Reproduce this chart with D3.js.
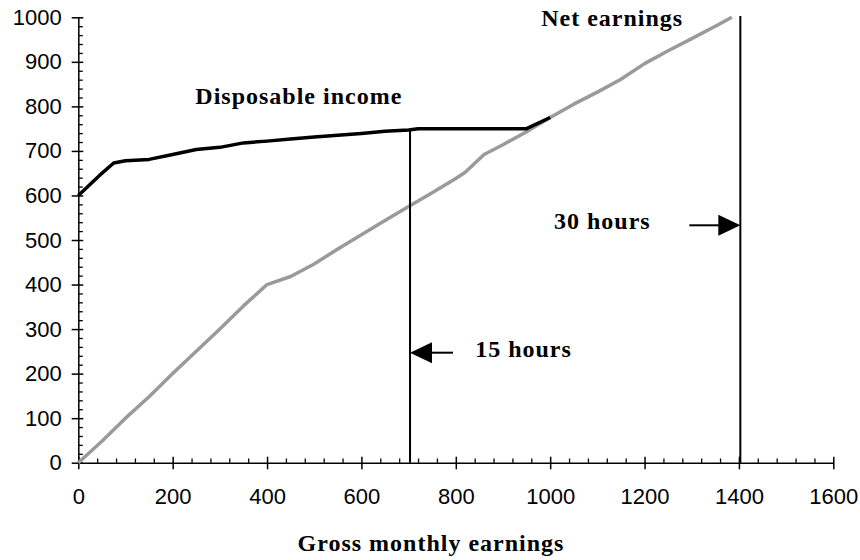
<!DOCTYPE html>
<html>
<head>
<meta charset="utf-8">
<script src="https://cdn.jsdelivr.net/npm/d3@7/dist/d3.min.js"></script>
<style>
  html, body { margin: 0; padding: 0; background: #fff; }
  svg { display: block; }
  .ann { font-family: "Liberation Serif", "Times New Roman", serif; font-weight: bold; font-size: 24px; letter-spacing: 1px; fill: #000; }
  .tick text { font-family: "Liberation Sans", Arial, sans-serif; font-size: 22px; fill: #000; }
</style>
</head>
<body>
<svg id="chart" width="860" height="560"></svg>
<script>
// ---- data ----
const netX = [0, 50, 100, 150, 200, 250, 300, 350, 400, 450, 500, 550, 600, 650, 700, 750, 800, 820, 860, 900, 950, 1000, 1050, 1100, 1150, 1200, 1250, 1300, 1350, 1385];
const netY = [0, 48, 100, 148, 200, 250, 300, 352, 400, 418, 446, 480, 512, 544, 575, 606, 638, 652, 692, 714, 743, 775, 805, 832, 861, 896, 925, 952, 980, 1000];

const dispX = [0, 45, 75, 100, 150, 200, 250, 300, 350, 400, 450, 500, 550, 600, 650, 700, 720, 860, 950, 1000];
const dispY = [600, 645, 673, 678, 681, 692, 703, 708, 718, 722, 727, 731, 735, 739, 744, 747, 750, 750, 750, 775];

const xTicks = [0, 200, 400, 600, 800, 1000, 1200, 1400, 1600];
const yTicks = [0, 100, 200, 300, 400, 500, 600, 700, 800, 900, 1000];

// hour markers: x position, top of line, arrow level, label anchor
const hourLabels = ["15 hours", "30 hours"];
const hourX = [703, 1403];
const hourTop = [748, 1003];
const hourArrowY = [247, 533];
const hourArrowDir = ["left", "right"];
const hourTextX = [841, 1008];
const hourTextY = [238, 524];

const seriesLabels = ["Disposable income", "Net earnings"];
const seriesLabelX = [248, 981];
const seriesLabelY = [805, 980];

const xTitle = "Gross monthly earnings";

// ---- chart ----
const svg = d3.select("#chart");
const x = d3.scaleLinear().domain([0, 1600]).range([78.3, 833.3]);
const y = d3.scaleLinear().domain([0, 1000]).range([462.7, 17.3]);

// minor ticks
const xMinor = d3.range(0, 1601, 40).filter(v => v % 200 !== 0);
const yMinor = d3.range(0, 1001, 20).filter(v => v % 100 !== 0);

const gxMinor = svg.append("g").attr("transform", `translate(0,${y(0)})`)
  .call(d3.axisBottom(x).tickValues(xMinor).tickSize(-4.2).tickFormat(""));
gxMinor.select(".domain").remove();
gxMinor.selectAll("line").attr("stroke", "#000").attr("stroke-width", 1.3);

const gyMinor = svg.append("g").attr("transform", `translate(${x(0)},0)`)
  .call(d3.axisLeft(y).tickValues(yMinor).tickSize(-4.5).tickFormat(""));
gyMinor.select(".domain").remove();
gyMinor.selectAll("line").attr("stroke", "#000").attr("stroke-width", 1.3);

// major axes
const gx = svg.append("g").attr("transform", `translate(0,${y(0)})`)
  .call(d3.axisBottom(x).tickValues(xTicks).tickSize(6.6).tickSizeOuter(0).tickPadding(18.7).tickFormat(d3.format("d")));
gx.select(".domain").attr("stroke", "#000").attr("stroke-width", 1.5);
gx.selectAll(".tick line").attr("y1", -6).attr("stroke", "#000").attr("stroke-width", 1.5);

const gy = svg.append("g").attr("transform", `translate(${x(0)},0)`)
  .call(d3.axisLeft(y).tickValues(yTicks).tickSize(6.6).tickSizeOuter(0).tickPadding(10).tickFormat(d3.format("d")));
gy.select(".domain").attr("stroke", "#000").attr("stroke-width", 1.5);
gy.selectAll(".tick line").attr("x1", 5).attr("stroke", "#000").attr("stroke-width", 1.5);
svg.selectAll(".tick text").attr("font-family", null).attr("font-size", null);

// lines
const line = d3.line().x(d => x(d[0])).y(d => y(d[1]));
const netData = netX.map((v, i) => [v, netY[i]]);
const dispData = dispX.map((v, i) => [v, dispY[i]]);

svg.append("path").datum(netData).attr("d", line)
  .attr("fill", "none").attr("stroke", "#9a9a9a").attr("stroke-width", 3.5)
  .attr("stroke-linejoin", "round");
svg.append("path").datum(dispData).attr("d", line)
  .attr("fill", "none").attr("stroke", "#000").attr("stroke-width", 3.5)
  .attr("stroke-linejoin", "round");

// hour reference lines and arrows
const tailLen = [43, 51];
hourX.forEach((hx, i) => {
  const px = x(hx);
  svg.append("line").attr("x1", px).attr("x2", px)
    .attr("y1", y(0)).attr("y2", y(hourTop[i]))
    .attr("stroke", "#000").attr("stroke-width", 2);
  const ay = y(hourArrowY[i]);
  const s = hourArrowDir[i] === "left" ? 1 : -1;
  svg.append("line").attr("x1", px + s * 20).attr("x2", px + s * tailLen[i])
    .attr("y1", ay).attr("y2", ay).attr("stroke", "#000").attr("stroke-width", 2);
  svg.append("path")
    .attr("d", `M${px},${ay}L${px + s * 22},${ay - 10.5}L${px + s * 22},${ay + 10.5}Z`)
    .attr("fill", "#000");
  svg.append("text").attr("class", "ann")
    .attr("x", x(hourTextX[i])).attr("y", y(hourTextY[i]))
    .text(hourLabels[i]);
});

// series labels
seriesLabels.forEach((t, i) => {
  svg.append("text").attr("class", "ann")
    .attr("x", x(seriesLabelX[i])).attr("y", y(seriesLabelY[i]))
    .text(t);
});

// axis title
svg.append("text").attr("class", "ann")
  .attr("x", 431).attr("y", 551).attr("text-anchor", "middle")
  .text(xTitle);
</script>
</body>
</html>
